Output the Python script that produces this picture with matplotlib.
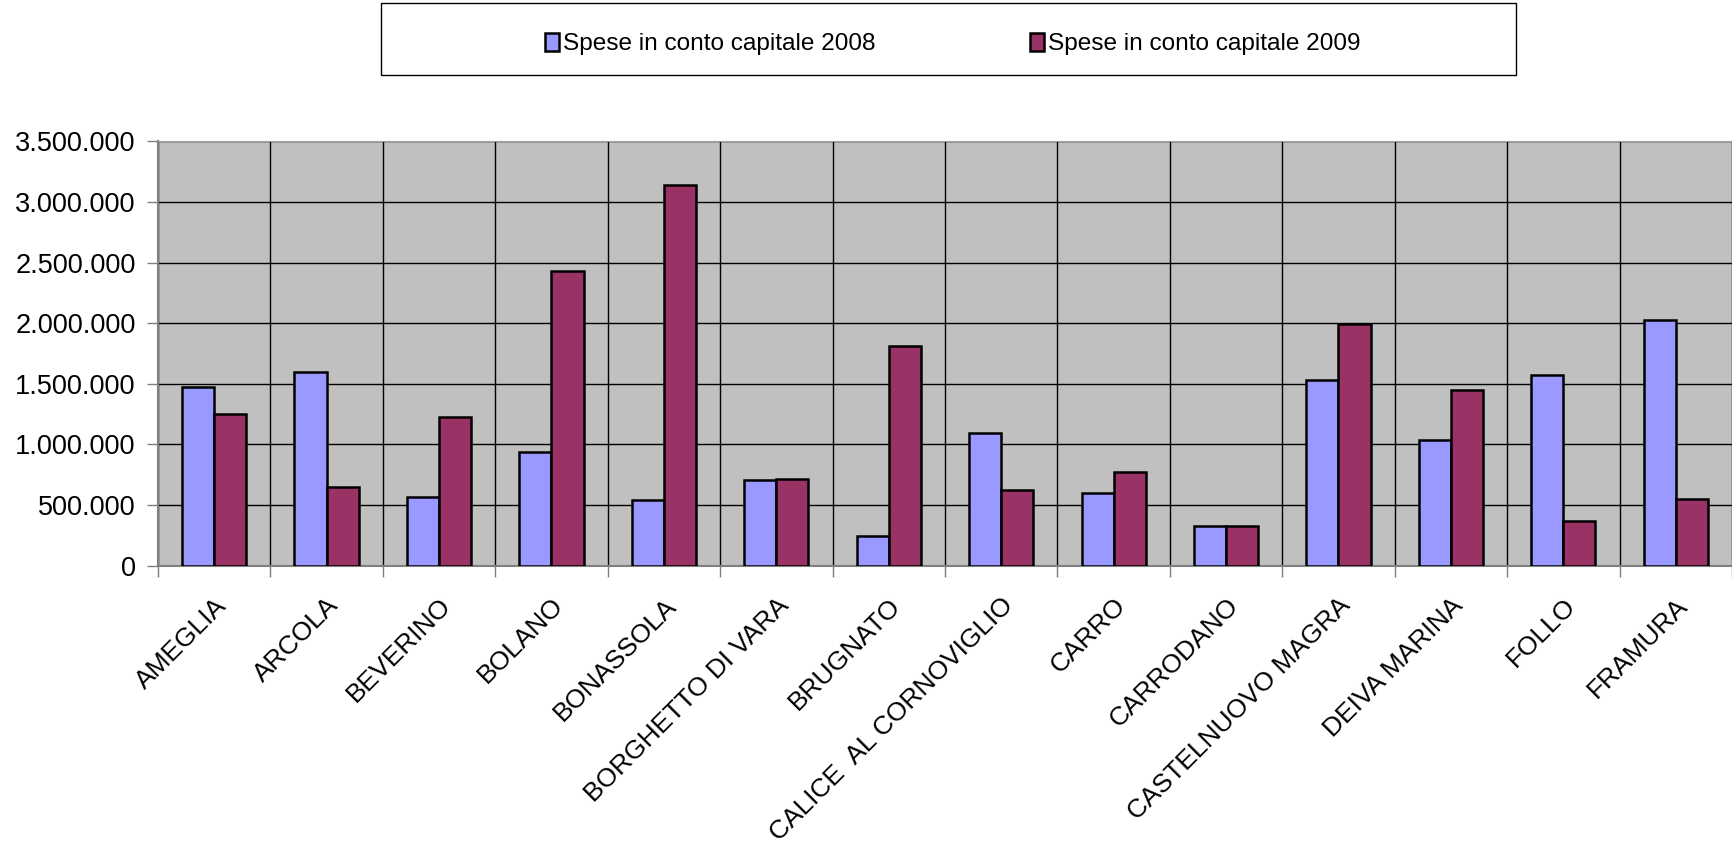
import matplotlib
matplotlib.use("Agg")
import matplotlib.pyplot as plt
from matplotlib.patches import Rectangle
from matplotlib.ticker import FuncFormatter, MultipleLocator
import numpy as np

plt.rcParams['font.family'] = ['Liberation Sans', 'DejaVu Sans']

comuni = ["AMEGLIA", "ARCOLA", "BEVERINO", "BOLANO", "BONASSOLA",
          "BORGHETTO DI VARA", "BRUGNATO", "CALICE  AL CORNOVIGLIO", "CARRO",
          "CARRODANO", "CASTELNUOVO MAGRA", "DEIVA MARINA", "FOLLO", "FRAMURA"]
spese_2008 = [1472000, 1596000, 570000, 935000, 539000, 710000, 248000,
              1095000, 600000, 327000, 1528000, 1035000, 1572000, 2026000]
spese_2009 = [1250000, 649000, 1225000, 2430000, 3140000, 712000, 1811000,
              622000, 776000, 325000, 1993000, 1448000, 372000, 553000]
label_2008 = "Spese in conto capitale 2008"
label_2009 = "Spese in conto capitale 2009"

fig = plt.figure(figsize=(17.32, 8.47), dpi=100)
ax = fig.add_axes([0.0912, 0.3322, 0.9088, 0.5008])

x = np.arange(len(comuni))
w = 0.2857
b1 = ax.bar(x - w / 2, spese_2008, w, color="#9999FF", edgecolor="black",
            linewidth=1.8, label=label_2008, zorder=3)
b2 = ax.bar(x + w / 2, spese_2009, w, color="#993366", edgecolor="black",
            linewidth=1.8, label=label_2009, zorder=3)

ax.set_facecolor("#C0C0C0")
ax.set_xlim(-0.5, len(comuni) - 0.5)
ax.set_ylim(0, 3500000)
ax.yaxis.set_major_locator(MultipleLocator(500000))
ax.yaxis.set_major_formatter(FuncFormatter(lambda v, p: f"{int(v):,}".replace(",", ".")))
ax.grid(axis="y", color="black", linewidth=1.0, zorder=1)

ax.set_xticks(x)
ax.set_xticklabels(comuni, rotation=45, ha="right", rotation_mode="anchor", fontsize=19)
ax.set_xticks(np.arange(-0.5, len(comuni)), minor=True)
ax.tick_params(axis="x", which="major", length=0, pad=20)
ax.tick_params(axis="x", which="minor", length=8, width=1, color="#808080")
ax.grid(axis="x", which="minor", color="black", linewidth=1.0, zorder=1)
ax.tick_params(axis="y", length=8, width=1, color="#808080", labelsize=19.5, pad=8)

for side in ["left", "bottom"]:
    ax.spines[side].set_color("#808080")
    ax.spines[side].set_linewidth(1.5)
ax.spines["top"].set_color("#A0A0A0")
ax.spines["right"].set_visible(False)

# legend box
fig.add_artist(Rectangle((0.2200, 0.9115), 0.6550, 0.0846, transform=fig.transFigure,
                         facecolor="white", edgecolor="black", linewidth=1.0))
fig.legend(handles=[b1, b2], labels=[label_2008, label_2009], loc="center",
           bbox_to_anchor=(0.5500, 0.9480), ncol=2, frameon=False, fontsize=17.6,
           handlelength=0.6, handleheight=0.8, handletextpad=0.15, columnspacing=6.3)

fig.savefig("out.png", dpi=100, facecolor="white")
